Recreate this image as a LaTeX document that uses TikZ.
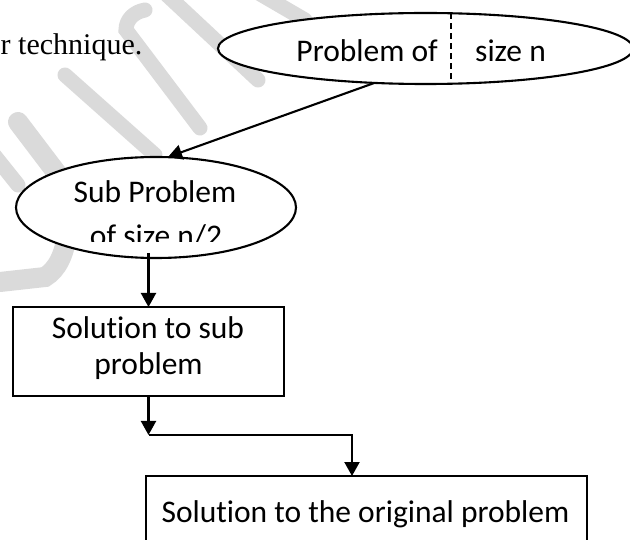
\documentclass[tikz,border=0pt]{standalone}
\usepackage{fontspec}
\setmainfont{Carlito}[RawFeature={-liga}]
\newfontfamily\timesfont{Liberation Serif}
\usetikzlibrary{shapes.geometric,arrows.meta}
\definecolor{wmgray}{RGB}{218,218,218}
\begin{document}
\begin{tikzpicture}[x=1pt,y=-1pt,
  wm/.style={line width=15pt,line cap=round,color=wmgray},
  box/.style={draw,line width=2.1pt,fill=white,inner sep=0pt,outer sep=0pt},
  ell/.style={box,ellipse},
  lbl/.style={anchor=base,inner sep=0pt,font=\fontsize{31.5}{36}\selectfont},
  arr/.style={line width=2.1pt,-{Triangle[width=15pt,length=14pt]}},
  ln/.style={line width=2.1pt}]
\useasboundingbox (0,0) rectangle (630,540);
\clip (0,0) rectangle (630,540);
\fill[white] (0,0) rectangle (630,540);
% watermark
\draw[wm] (167,-5) -- (258,80);
\draw[wm] (250,-12) -- (305,20);
\draw[wm] (65,75) -- (155,155);
\draw[wm] (145,10) to[out=190,in=90] (126,30) -- (200,128);
\draw[wm] (-10,150) -- (18,185);
\draw[wm, line width=20pt] (18,122) -- (62,180) .. controls (72,215) and (70,262) .. (45,277) -- (0,282);
% intro text
\node[lbl, font=\timesfont\fontsize{30}{36}\selectfont, anchor=base west] (intro) at (0.5,55) {r technique.};
% top ellipse
\node[ell, minimum width=415pt, minimum height=71pt] (top) at (425.5,48.5) {};
\draw[ln, dash pattern=on 6pt off 4pt] (451,13.5) -- (451,83.5);
\node[lbl, anchor=base east] (t1) at (438,62) {Problem of};
\node[lbl, anchor=base west] (t2) at (475,62) {size n};
% sub ellipse
\node[ell, minimum width=280pt, minimum height=101pt] (sub) at (156,207.5) {};
\node[lbl] (s1) at (155,203) {Sub Problem};
\begin{scope}
  \clip (60,170) rectangle (260,241.7);
  \node[lbl] (s2) at (156,246.5) {of size n/2};
\end{scope}
% solution to sub problem
\node[box, minimum width=271pt, minimum height=89pt] (r1) at (148.5,351.5) {};
\node[lbl] (r1a) at (148,339) {Solution to sub};
\node[lbl] (r1b) at (148.5,375) {problem};
% solution to original
\node[box, minimum width=441pt, minimum height=100pt] (r2) at (366.5,526) {};
\node[lbl] (r2a) at (365.5,522) {Solution to the original problem};
% connectors
\draw[arr] (top.214) -- ([xshift=12pt]sub.north);
\draw[arr] ([yshift=5pt]sub.south -| r1.north) -- (r1.north);
\coordinate (j) at (148.5,435);
\coordinate (k) at (352,435);
\draw[arr] (r1.south) -- (j);
\draw[arr] (j) -- (k) -- (k |- r2.north);
\end{tikzpicture}
\end{document}
